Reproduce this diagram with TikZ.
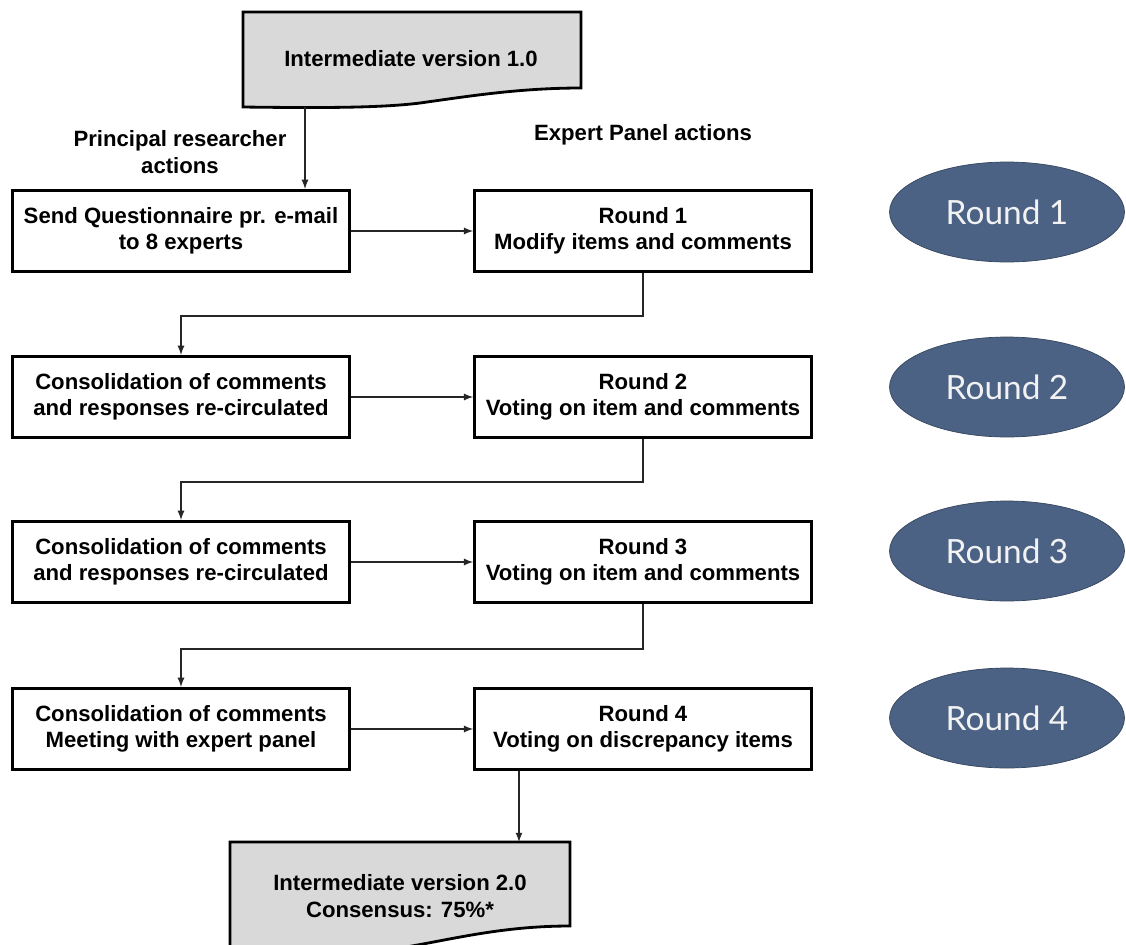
\documentclass[tikz,border=0pt]{standalone}
\usepackage{fontspec}
\setmainfont{Liberation Sans}
\newfontfamily\roundfont{Lato}
\usetikzlibrary{positioning,shapes.geometric}
\definecolor{roundblue}{HTML}{4B6285}
\definecolor{docgray}{HTML}{D9D9D9}

\begin{document}
\begin{tikzpicture}[
    x=0.02cm, y=-0.02cm,
    every node/.style={font=\bfseries\fontsize{12.6}{15}\selectfont, align=center},
    stepbox/.style={draw, line width=1.6pt, minimum width=6.74cm, minimum height=1.63cm, inner sep=0pt},
    doc/.style={draw, line width=1.6pt, fill=docgray},
    roundoval/.style={ellipse, fill=roundblue, draw=roundblue!70!black, minimum width=4.7cm, minimum height=2cm, text=white!95!black, font=\roundfont\fontsize{19}{23}\selectfont},
    link/.style={draw=black!85, line width=0.8pt},
    arr/.style={link, -latex}
]
\fill[white] (0,0) rectangle (1126,944);
\clip (0,0) rectangle (1126,944);

% Start document
\draw[doc] (243,12) -- (581,12) -- (581,88) .. controls (520,88) and (470,96) .. (420,103)
    .. controls (380,108) and (320,108) .. (243,107) -- cycle;
\node (v1) at (411,59) {Intermediate version 1.0};
\coordinate (v1out) at (305,107);

% Column headings
\node (prin) at (180,152) {Principal researcher\\actions};
\node (expert) at (643,135) {Expert Panel actions};

% Steps
\node[stepbox] (s1) at (181,231) {Send Questionnaire pr. e-mail\\to 8 experts};
\node[stepbox] (e1) at (643,231) {Round 1\\Modify items and comments};
\node[stepbox] (c2) at (181,397) {Consolidation of comments\\and responses re-circulated};
\node[stepbox] (e2) at (643,397) {Round 2\\Voting on item and comments};
\node[stepbox] (c3) at (181,562) {Consolidation of comments\\and responses re-circulated};
\node[stepbox] (e3) at (643,562) {Round 3\\Voting on item and comments};
\node[stepbox] (c4) at (181,729) {Consolidation of comments\\Meeting with expert panel};
\node[stepbox] (e4) at (643,729) {Round 4\\Voting on discrepancy items};

% Round labels
\foreach \y/\n in {212/1, 387/2, 551/3, 718/4}
    \node[roundoval] (r\n) at (1007,\y) {Round \n};

% End document
\draw[doc] (230,842) -- (570,842) -- (570,926) .. controls (500,926) and (450,940) .. (400,948)
    .. controls (350,955) and (300,956) .. (230,956) -- cycle;
\node (v2) at (400,896) {Intermediate version 2.0\\Consensus: 75\%*};
\coordinate (v2in) at (519,842);

% Connectors
\draw[arr] (v1out) -- (v1out |- s1.north);
\draw[arr] (s1) -- (e1);
\draw[arr] (e1.south) -- ++(0,43) -| (c2.north);
\draw[arr] (c2) -- (e2);
\draw[arr] (e2.south) -- ++(0,43) -| (c3.north);
\draw[arr] (c3) -- (e3);
\draw[arr] (e3.south) -- ++(0,45) -| (c4.north);
\draw[arr] (c4) -- (e4);
\draw[arr] (e4.south -| v2in) -- (v2in);
\end{tikzpicture}
\end{document}
